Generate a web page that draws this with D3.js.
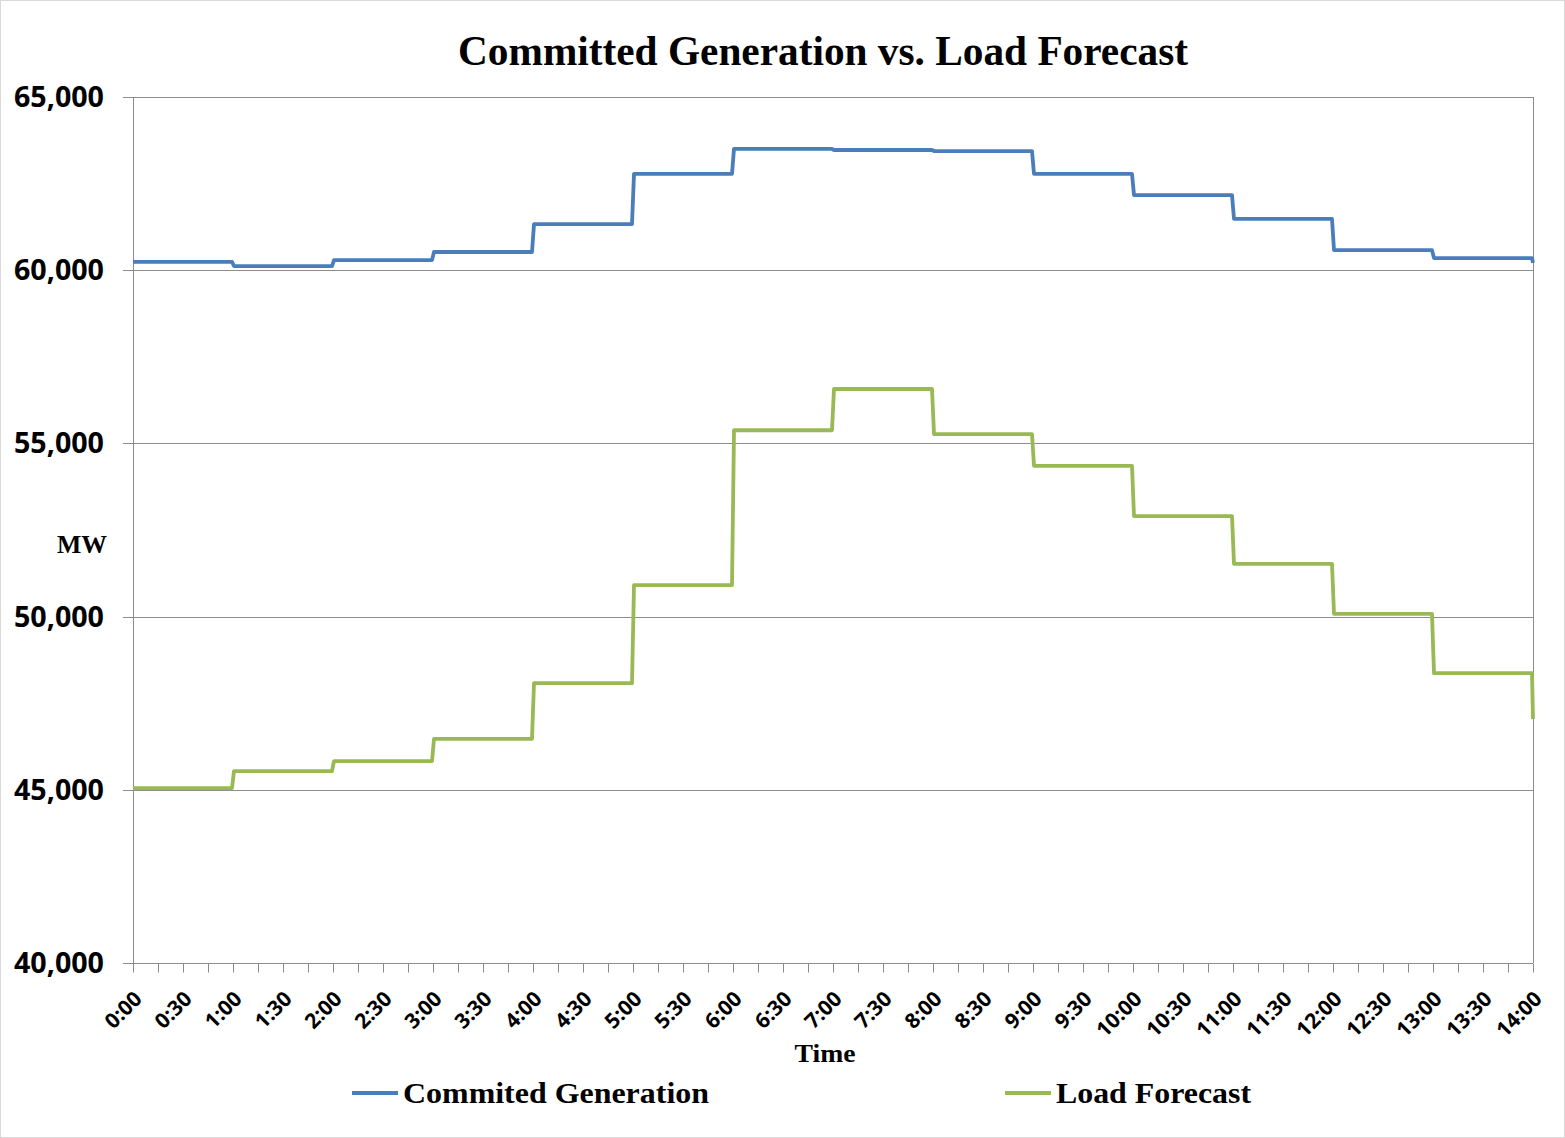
<!DOCTYPE html>
<html>
<head>
<meta charset="utf-8">
<script src="https://cdn.jsdelivr.net/npm/d3@7"></script>
<style>
  body { margin: 0; background: #fff; }
  svg { display: block; }
</style>
</head>
<body>
<svg id="chart"></svg>
<script>
// chart data, one value per hour block (MW)
let hours = [0, 1, 2, 3, 4, 5, 6, 7, 8, 9, 10, 11, 12, 13]
let committedGen = [60240, 60120, 60290, 60525, 61330, 62780, 63500, 63470, 63440, 62780, 62170, 61480, 60580, 60350]
let committedEnd = 60210
let loadForecast = [45050, 45540, 45830, 46470, 48080, 50910, 55380, 56570, 55270, 54350, 52900, 51520, 50080, 48370]
let loadEnd = 47040
let yTicks = [40000, 45000, 50000, 55000, 60000, 65000]
let xLabels = d3.range(0, 14.01, 0.5).map(h => `${Math.floor(h)}:${h % 1 ? '30' : '00'}`)
let seriesNames = ['Commited Generation', 'Load Forecast']

let width = 1565
let height = 1138
let margin = { left: 133, right: 32, top: 97, bottom: 175 }
let colors = ['#4A7EBB', '#98B954']

let svg = d3.select('#chart').attr('width', width).attr('height', height)

// outer frame
svg.append('rect')
  .attr('x', 0.5).attr('y', 0.5)
  .attr('width', width - 1).attr('height', height - 1)
  .attr('fill', '#fff').attr('stroke', '#d9d9d9')

let x = d3.scaleLinear().domain([0, 14]).range([margin.left, width - margin.right])
let y = d3.scaleLinear().domain([40000, 65000]).range([height - margin.bottom, margin.top])

// gridlines
svg.append('g')
  .selectAll('line')
  .data(yTicks)
  .join('line')
  .attr('x1', margin.left - 10).attr('x2', x(14))
  .attr('y1', d => Math.round(y(d)) + 0.5).attr('y2', d => Math.round(y(d)) + 0.5)
  .attr('stroke', '#8c8c8c').attr('stroke-width', 1)

// left and right frame
svg.append('line')
  .attr('x1', margin.left + 0.5).attr('x2', margin.left + 0.5)
  .attr('y1', y(65000)).attr('y2', y(40000))
  .attr('stroke', '#8c8c8c')
svg.append('line')
  .attr('x1', Math.round(x(14)) + 0.5).attr('x2', Math.round(x(14)) + 0.5)
  .attr('y1', y(65000)).attr('y2', y(40000))
  .attr('stroke', '#8c8c8c')

// y tick labels
svg.append('g')
  .selectAll('text')
  .data(yTicks)
  .join('text')
  .attr('x', 104)
  .attr('y', d => y(d))
  .attr('dy', '0.36em')
  .attr('text-anchor', 'end')
  .attr('textLength', 90).attr('lengthAdjust', 'spacingAndGlyphs')
  .style('font', 'bold 28px "Open Sans", sans-serif')
  .text(d => d3.format(',')(d))

// x axis ticks every 15 min
let xAxis = d3.axisBottom(x)
  .tickValues(d3.range(0, 14.01, 0.25))
  .tickSize(9)
  .tickFormat('')
let gx = svg.append('g')
  .attr('transform', `translate(0,${Math.round(y(40000)) + 0.5})`)
  .call(xAxis)
gx.select('.domain').remove()
gx.selectAll('.tick line').attr('stroke', '#8c8c8c')

// rotated x labels
svg.append('g')
  .selectAll('text')
  .data(xLabels)
  .join('text')
  .attr('transform', (d, i) => `translate(${x(i * 0.5) + 5},${y(40000) + 32}) rotate(-45)`)
  .attr('text-anchor', 'end')
  .attr('dy', '0.35em')
  .style('font', 'bold 21px "Open Sans", sans-serif')
  .text(d => d)

// step series: hold value through each hour, step right at the hour mark
function stepPoints(vals, endVal) {
  let pts = []
  vals.forEach((v, i) => {
    pts.push([i ? hours[i] + 0.01 : 0, v])
    pts.push([hours[i] + 0.99, v])
  })
  pts.push([14, endVal])
  return pts
}

let line = d3.line().x(d => x(d[0])).y(d => y(d[1]))

;[[committedGen, committedEnd], [loadForecast, loadEnd]].forEach((s, i) => {
  svg.append('path')
    .datum(stepPoints(s[0], s[1]))
    .attr('d', line)
    .attr('fill', 'none')
    .attr('stroke', colors[i])
    .attr('stroke-width', 3.8)
    .attr('stroke-linejoin', 'round')
})

// title and axis titles
svg.append('text')
  .attr('x', 823).attr('y', 65)
  .attr('text-anchor', 'middle')
  .attr('textLength', 730).attr('lengthAdjust', 'spacingAndGlyphs')
  .style('font', 'bold 42px "Liberation Serif", "Times New Roman", serif')
  .text('Committed Generation vs. Load Forecast')

svg.append('text')
  .attr('x', 82).attr('y', 553)
  .attr('text-anchor', 'middle')
  .attr('textLength', 50).attr('lengthAdjust', 'spacingAndGlyphs')
  .style('font', 'bold 26px "Liberation Serif", serif')
  .text('MW')

svg.append('text')
  .attr('x', 825).attr('y', 1062)
  .attr('text-anchor', 'middle')
  .attr('textLength', 61).attr('lengthAdjust', 'spacingAndGlyphs')
  .style('font', 'bold 26px "Liberation Serif", serif')
  .text('Time')

// legend
let legendX = [352, 1005]
let legendW = [306, 195]
let legend = svg.append('g')
  .selectAll('g')
  .data(seriesNames)
  .join('g')
  .attr('transform', (d, i) => `translate(${legendX[i]},1093)`)
legend.append('line')
  .attr('x1', 0).attr('x2', 46)
  .attr('stroke', (d, i) => colors[i])
  .attr('stroke-width', 4)
legend.append('text')
  .attr('x', 51).attr('y', 10)
  .attr('textLength', (d, i) => legendW[i]).attr('lengthAdjust', 'spacingAndGlyphs')
  .style('font', 'bold 30px "Liberation Serif", serif')
  .text(d => d)
</script>
</body>
</html>
